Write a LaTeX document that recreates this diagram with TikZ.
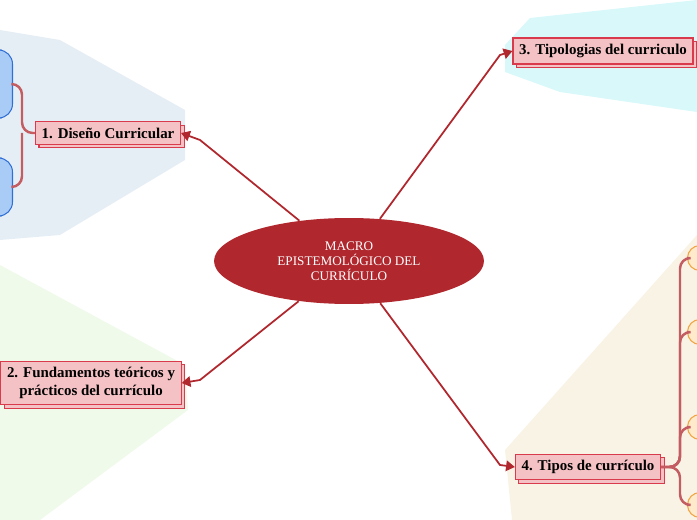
\documentclass[tikz,border=0pt]{standalone}
\usepackage{fontspec}
\setmainfont{Liberation Serif}
\usetikzlibrary{shapes.geometric,arrows.meta,calc,shadows}
\definecolor{mapred}{HTML}{B0272D}
\definecolor{boxfill}{HTML}{F4C2C4}
\definecolor{boxline}{HTML}{D93A4C}
\definecolor{fanblue}{HTML}{E6EEF5}
\definecolor{fangreen}{HTML}{EFFAEA}
\definecolor{fancyan}{HTML}{D8F8FA}
\definecolor{fanbeige}{HTML}{F9F3E6}
\definecolor{leafblue}{HTML}{A9CCF7}
\definecolor{leafedge}{HTML}{2F6FD6}
\definecolor{dotfill}{HTML}{FFEBCB}
\definecolor{dotedge}{HTML}{F2A23C}
\tikzstyle{centre}=[ellipse,
                    fill=mapred,
                    minimum width=5.4cm,
                    minimum height=1.72cm,
                    text=white,
                    align=center,
                    font=\fontsize{7.5}{8.5}\selectfont]
\tikzstyle{topic}=[draw=boxline,
                   fill=boxfill,
                   line width=0.6pt,
                   align=center,
                   inner sep=3.5pt,
                   font=\bfseries\fontsize{8.5}{10}\selectfont,
                   copy shadow={shadow xshift=2pt,shadow yshift=-2pt,draw=boxline,fill=boxfill}]
\tikzstyle{link}=[draw=mapred,line width=1pt]
\tikzstyle{twig}=[draw=mapred!75,line width=1.4pt,rounded corners=6pt]
\tikzstyle{leafbox}=[draw=leafedge,fill=leafblue,rounded corners=8pt,line width=0.6pt]
\tikzstyle{leafdot}=[circle,draw=dotedge,fill=dotfill,line width=0.6pt,minimum size=0.5cm]

\begin{document}
\begin{tikzpicture}[x=0.02cm,y=-0.02cm]
      \useasboundingbox (0,0) rectangle (697,520);
      % backgrounds
      \fill[fanblue] (0,30) -- (60,40) -- (185,110) -- (185,160) -- (60,235) -- (0,240) -- cycle;
      \fill[fangreen] (0,265) -- (185,365) -- (188,410) -- (40,520) -- (0,520) -- cycle;
      \fill[fancyan] (505,45) -- (530,18) -- (697,0) -- (697,112) -- (560,92) -- (505,72) -- cycle;
      \fill[fanbeige] (505,450) -- (697,235) -- (697,520) -- (512,520) -- cycle;

      \node[centre] (macro) at (349,261) {MACRO\\EPISTEMOLÓGICO DEL\\CURRÍCULO};

      \node[topic] (diseno)  at (108,133) {1. Diseño Curricular};
      \node[topic] (fund)    at (91,383)  {2. Fundamentos teóricos y\\prácticos del currículo};
      \node[topic] (tipol)   at (603,51)  {3. Tipologias del curriculo};
      \node[topic] (tipos)   at (588,467) {4. Tipos de currículo};

      \node[leafbox,minimum width=0.5cm,minimum height=1.36cm] (hoja1) at (0,84) {};
      \node[leafbox,minimum width=0.5cm,minimum height=1.16cm] (hoja2) at (0,187) {};
      \foreach \y/\n in {258/a,332/b,427/c,505/d}
        \node[leafdot] (dot\n) at (700,\y) {};

      \draw[link,-{Triangle[length=5pt,width=6pt]}] (macro) -- (200,140) -- (diseno.east);
      \draw[link,-{Triangle[length=5pt,width=6pt]}] (macro) -- (200,380) -- (fund.east);
      \draw[link,-{Triangle[length=5pt,width=6pt]}] (macro) -- (500,55) -- (tipol.west);
      \draw[link,-{Triangle[length=5pt,width=6pt]}] (macro) -- (500,465) -- (tipos.west);

      \draw[twig] (diseno.west) -- (22,133) -- (22,84) -- (hoja1.east);
      \draw[twig] (22,133) -- (22,187) -- (hoja2.east);
      \foreach \n in {a,b,c,d}
        \draw[twig] (tipos.east) -- (680,467) |- (dot\n.west);
\end{tikzpicture}
\end{document}
